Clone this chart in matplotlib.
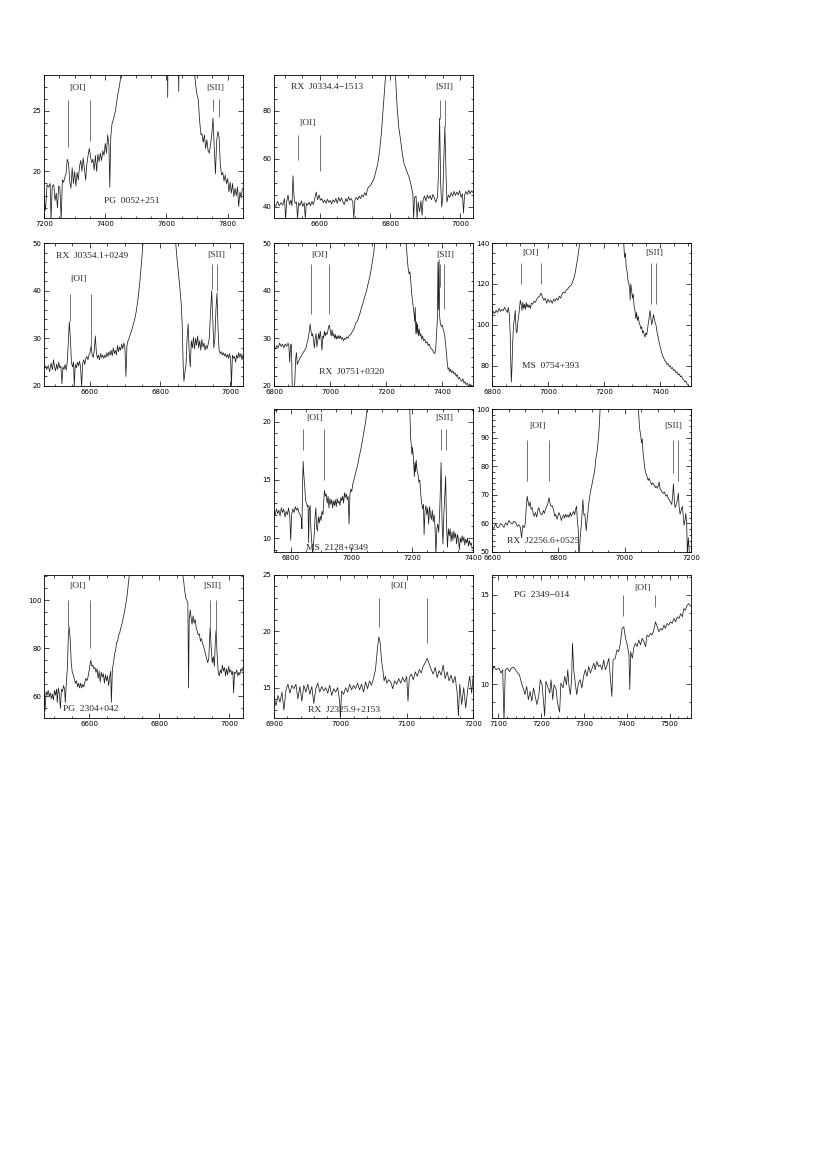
import numpy as np
import matplotlib.pyplot as plt
from matplotlib.ticker import MultipleLocator

# espectros: pares (comprimento de onda [A], fluxo)

pg0052 = [(7200, 17.8), (7205, 16.8), (7210, 18.9), (7215, 18.7), (7220, 19.0), (7223, 16.0), (7227, 18.8),
          (7232, 18.9), (7236, 17.6), (7240, 18.2), (7244, 17.0), (7248, 18.8), (7252, 18.6), (7256, 16.0),
          (7260, 19.3), (7264, 19.1), (7268, 19.5), (7272, 19.8), (7276, 21.0), (7280, 20.7), (7284, 19.2),
          (7288, 18.6), (7292, 20.3), (7296, 19.0), (7300, 20.0), (7304, 18.8), (7308, 19.9), (7312, 19.3),
          (7316, 20.4), (7320, 20.9), (7324, 20.0), (7328, 21.1), (7332, 20.2), (7336, 19.3), (7340, 20.6),
          (7344, 21.3), (7348, 21.9), (7352, 21.2), (7356, 20.7), (7360, 21.0), (7364, 20.1), (7368, 21.3),
          (7372, 20.0), (7376, 21.4), (7380, 20.8), (7384, 21.5), (7388, 20.9), (7392, 21.7), (7396, 21.3),
          (7400, 22.3), (7404, 21.5), (7408, 23.0), (7412, 22.2), (7415, 18.7), (7418, 22.8), (7422, 23.9),
          (7428, 24.4), (7434, 25.1), (7440, 26.2), (7446, 27.0), (7452, 28.0), (7460, 29.5), (7500, 35.0),
          (7550, 40.0), (7600, 38.0), (7604, 26.1), (7608, 38.0), (7636, 36.0), (7640, 26.6), (7644, 35.0),
          (7670, 31.0), (7690, 28.5), (7696, 27.0), (7700, 26.3), (7704, 25.9), (7708, 24.3), (7710, 23.7),
          (7713, 23.0), (7716, 23.1), (7720, 22.4), (7724, 23.0), (7728, 21.9), (7732, 22.6), (7736, 21.7),
          (7740, 21.5), (7744, 22.2), (7748, 23.0), (7752, 24.4), (7756, 22.0), (7760, 19.8), (7764, 22.5),
          (7768, 23.3), (7772, 22.8), (7776, 20.5), (7780, 19.7), (7784, 19.9), (7788, 19.2), (7792, 19.7),
          (7796, 19.0), (7800, 19.4), (7804, 18.3), (7808, 19.1), (7812, 18.2), (7816, 19.0), (7820, 17.9),
          (7824, 18.6), (7828, 18.0), (7832, 18.7), (7836, 17.1), (7840, 18.3), (7844, 17.8), (7848, 18.6)]

rx0334 = [(6470, 41.0), (6475, 40.2), (6480, 42.3), (6485, 40.5), (6490, 41.8), (6495, 40.8), (6500, 43.5),
          (6503, 35.0), (6506, 42.0), (6510, 45.0), (6514, 41.0), (6518, 42.8), (6521, 40.5), (6524, 53.0),
          (6527, 44.0), (6530, 41.5), (6534, 42.0), (6537, 35.2), (6540, 41.8), (6544, 40.6), (6548, 42.5),
          (6552, 40.2), (6556, 41.8), (6559, 35.3), (6562, 41.5), (6566, 40.8), (6570, 42.0), (6574, 40.5),
          (6578, 42.3), (6582, 41.0), (6586, 43.5), (6590, 46.2), (6594, 43.0), (6598, 45.0), (6602, 42.8),
          (6606, 43.5), (6610, 41.8), (6614, 42.9), (6618, 41.5), (6622, 43.2), (6626, 41.9), (6630, 42.8),
          (6634, 41.2), (6638, 43.0), (6642, 42.0), (6646, 43.5), (6650, 41.5), (6654, 44.0), (6658, 42.3),
          (6662, 43.8), (6666, 42.0), (6670, 41.0), (6674, 43.5), (6678, 42.2), (6682, 44.2), (6686, 42.8),
          (6690, 43.5), (6694, 42.0), (6697, 35.3), (6700, 42.8), (6704, 44.0), (6708, 43.0), (6712, 44.5),
          (6716, 43.5), (6720, 45.0), (6724, 44.2), (6728, 46.0), (6732, 44.8), (6736, 47.5), (6740, 48.5),
          (6745, 49.0), (6750, 50.5), (6755, 52.0), (6760, 55.0), (6765, 58.0), (6770, 63.0), (6775, 70.0),
          (6780, 80.0), (6785, 90.0), (6790, 100.0), (6800, 130.0), (6810, 110.0), (6815, 96.0), (6820, 82.0),
          (6825, 73.0), (6830, 68.0), (6835, 62.0), (6840, 58.0), (6845, 56.0), (6850, 54.0), (6855, 52.0),
          (6860, 49.0), (6862, 47.5), (6865, 45.5), (6867, 35.3), (6870, 44.0), (6874, 44.5), (6877, 35.3),
          (6880, 42.0), (6884, 38.0), (6888, 42.5), (6891, 36.5), (6894, 43.0), (6898, 44.5), (6902, 42.5),
          (6906, 45.0), (6910, 43.5), (6914, 44.8), (6918, 43.0), (6922, 45.2), (6926, 43.8), (6930, 42.0),
          (6935, 44.0), (6938, 55.0), (6941, 77.0), (6944, 50.0), (6947, 40.0), (6950, 44.0), (6953, 60.0),
          (6956, 73.5), (6959, 55.0), (6962, 42.0), (6966, 45.0), (6970, 44.0), (6974, 46.0), (6978, 44.5),
          (6982, 46.5), (6986, 44.8), (6990, 46.2), (6994, 45.0), (6998, 46.8), (7002, 44.0), (7006, 45.5),
          (7009, 37.5), (7012, 45.0), (7016, 46.5), (7020, 45.2), (7024, 47.0), (7028, 45.5), (7032, 46.8),
          (7036, 46.0)]

rx0354 = [(6470, 23.8), (6474, 24.2), (6478, 23.5), (6482, 24.3), (6486, 23.0), (6490, 24.8), (6494, 23.4),
          (6497, 25.5), (6500, 24.0), (6503, 23.2), (6506, 24.6), (6509, 23.5), (6512, 25.0), (6515, 23.8),
          (6518, 24.2), (6521, 20.5), (6524, 24.0), (6527, 23.5), (6530, 24.5), (6533, 23.3), (6536, 25.0),
          (6539, 29.0), (6542, 33.5), (6545, 30.0), (6548, 25.0), (6551, 24.0), (6554, 25.0), (6556, 20.0),
          (6559, 24.5), (6562, 23.8), (6565, 25.0), (6568, 24.2), (6571, 25.2), (6574, 24.0), (6577, 19.8),
          (6580, 24.8), (6583, 25.5), (6586, 24.5), (6589, 25.8), (6592, 26.2), (6595, 25.5), (6598, 26.5),
          (6601, 27.0), (6604, 28.5), (6607, 26.5), (6610, 26.0), (6613, 27.5), (6616, 30.5), (6619, 27.0),
          (6622, 25.8), (6625, 26.5), (6628, 25.5), (6631, 26.8), (6634, 26.0), (6637, 26.5), (6640, 25.8),
          (6643, 26.5), (6646, 26.0), (6649, 27.0), (6652, 26.2), (6655, 27.2), (6658, 26.5), (6661, 27.5),
          (6664, 26.3), (6667, 28.0), (6670, 26.8), (6673, 27.5), (6676, 26.5), (6679, 28.5), (6682, 27.2),
          (6685, 28.2), (6688, 27.5), (6691, 28.8), (6694, 27.8), (6697, 29.0), (6700, 28.2), (6703, 22.0),
          (6706, 28.5), (6709, 29.5), (6712, 30.0), (6716, 31.0), (6720, 31.8), (6724, 33.0), (6728, 34.0),
          (6732, 35.5), (6736, 37.5), (6740, 40.0), (6744, 43.0), (6748, 46.5), (6752, 50.5), (6760, 58.0),
          (6780, 75.0), (6800, 85.0), (6820, 75.0), (6840, 55.0), (6844, 50.5), (6848, 47.0), (6852, 44.0),
          (6856, 41.0), (6860, 37.5), (6863, 33.0), (6866, 24.0), (6868, 21.0), (6871, 23.0), (6874, 24.5),
          (6877, 30.0), (6880, 33.0), (6883, 27.0), (6886, 24.0), (6889, 29.5), (6892, 28.0), (6895, 30.2),
          (6898, 27.8), (6901, 30.0), (6904, 28.5), (6907, 30.5), (6910, 28.0), (6913, 29.5), (6916, 27.5),
          (6919, 29.8), (6922, 28.2), (6925, 29.0), (6928, 27.5), (6931, 28.5), (6934, 27.8), (6937, 28.8),
          (6940, 30.0), (6944, 36.0), (6947, 40.0), (6950, 34.0), (6953, 28.0), (6956, 30.0), (6959, 36.0),
          (6962, 39.5), (6965, 32.0), (6968, 27.5), (6971, 26.8), (6974, 27.2), (6977, 26.5), (6980, 27.0),
          (6983, 26.3), (6986, 26.8), (6989, 26.0), (6992, 26.6), (6995, 25.8), (6998, 26.8), (7001, 25.5),
          (7003, 20.0), (7006, 26.5), (7009, 25.8), (7012, 26.2), (7015, 25.0), (7018, 26.5), (7021, 25.8),
          (7024, 27.0), (7027, 26.0), (7030, 26.8), (7033, 25.5), (7036, 26.6)]

rx0751 = [(6800, 28.3), (6805, 27.8), (6810, 28.5), (6815, 28.0), (6820, 29.0), (6825, 28.3), (6830, 28.8),
          (6835, 28.0), (6840, 28.8), (6845, 28.3), (6850, 29.0), (6853, 28.5), (6856, 25.0), (6859, 28.6),
          (6862, 28.8), (6865, 20.0), (6868, 18.0), (6871, 19.0), (6874, 20.5), (6877, 25.5), (6880, 27.0),
          (6883, 24.5), (6886, 25.0), (6890, 25.5), (6894, 26.0), (6898, 26.3), (6902, 26.8), (6906, 27.2),
          (6910, 27.5), (6914, 28.0), (6918, 29.0), (6922, 30.0), (6926, 31.5), (6929, 33.0), (6932, 31.5),
          (6935, 30.5), (6938, 31.0), (6941, 29.5), (6944, 28.0), (6947, 30.0), (6950, 31.0), (6953, 28.2),
          (6956, 29.5), (6959, 31.0), (6962, 29.8), (6965, 31.5), (6968, 30.0), (6971, 27.5), (6974, 30.5),
          (6977, 30.0), (6980, 31.5), (6983, 30.5), (6986, 31.2), (6989, 30.8), (6992, 31.5), (6995, 32.5),
          (6998, 32.8), (7001, 31.5), (7004, 30.5), (7007, 31.8), (7010, 30.5), (7013, 31.0), (7016, 30.0),
          (7019, 30.8), (7022, 29.8), (7025, 30.5), (7028, 29.9), (7031, 30.6), (7034, 30.0), (7037, 30.5),
          (7040, 29.8), (7044, 30.2), (7048, 29.5), (7052, 30.0), (7056, 29.8), (7060, 30.3), (7064, 30.0),
          (7068, 30.5), (7072, 30.8), (7076, 31.0), (7080, 31.5), (7084, 31.8), (7088, 32.5), (7092, 33.2),
          (7096, 33.5), (7100, 34.0), (7104, 34.8), (7108, 35.5), (7112, 36.5), (7116, 37.0), (7120, 38.0),
          (7124, 38.8), (7128, 39.5), (7132, 40.5), (7136, 41.5), (7140, 42.5), (7144, 43.5), (7148, 45.0),
          (7152, 46.5), (7156, 48.0), (7160, 50.5), (7170, 56.0), (7200, 70.0), (7240, 65.0), (7265, 55.0),
          (7270, 51.0), (7274, 48.0), (7278, 45.0), (7282, 43.5), (7285, 44.0), (7288, 42.0), (7291, 39.5),
          (7294, 38.0), (7297, 36.5), (7300, 35.0), (7302, 33.5), (7304, 36.5), (7306, 31.0), (7308, 33.5),
          (7310, 31.0), (7312, 33.0), (7315, 30.5), (7318, 32.0), (7321, 30.5), (7324, 31.0), (7327, 29.8),
          (7330, 30.5), (7334, 29.5), (7338, 29.8), (7342, 29.0), (7346, 29.3), (7350, 28.5), (7354, 28.8),
          (7358, 28.0), (7362, 27.8), (7366, 27.5), (7370, 27.0), (7374, 26.8), (7377, 28.0), (7380, 31.0),
          (7383, 34.0), (7385, 46.0), (7387, 36.0), (7389, 46.5), (7391, 34.5), (7394, 33.0), (7397, 32.5),
          (7400, 32.8), (7403, 32.0), (7406, 31.5), (7409, 30.5), (7412, 29.0), (7415, 27.0), (7418, 25.0),
          (7421, 23.5), (7424, 23.8), (7427, 23.0), (7430, 23.5), (7434, 22.8), (7438, 23.2), (7442, 22.5),
          (7446, 22.8), (7450, 22.0), (7454, 22.4), (7458, 21.5), (7462, 21.8), (7466, 21.2), (7470, 21.0),
          (7474, 21.5), (7478, 20.6), (7482, 20.9), (7486, 20.3), (7490, 20.6), (7494, 19.8), (7498, 20.4),
          (7502, 19.9), (7506, 20.2), (7510, 19.5)]

ms0754 = [(6800, 104.0), (6805, 106.5), (6810, 105.5), (6815, 107.0), (6820, 106.0), (6825, 108.0),
          (6830, 106.5), (6835, 107.5), (6840, 106.8), (6845, 108.5), (6850, 107.0), (6855, 106.0),
          (6858, 108.5), (6862, 105.0), (6865, 95.0), (6867, 82.0), (6869, 72.0), (6871, 78.0), (6874, 92.0),
          (6877, 100.0), (6880, 103.0), (6883, 107.0), (6886, 97.0), (6889, 96.0), (6892, 101.0),
          (6895, 104.0), (6898, 108.0), (6901, 112.0), (6904, 110.0), (6907, 107.0), (6910, 111.0),
          (6913, 108.0), (6916, 110.0), (6919, 107.5), (6922, 111.0), (6925, 108.5), (6928, 110.0),
          (6931, 108.5), (6934, 109.5), (6937, 108.0), (6940, 110.5), (6945, 110.0), (6950, 111.5),
          (6955, 111.0), (6960, 112.5), (6965, 113.5), (6970, 114.0), (6975, 115.5), (6980, 113.5),
          (6985, 112.0), (6990, 113.0), (6995, 110.5), (7000, 112.5), (7005, 111.0), (7010, 112.0),
          (7015, 110.5), (7020, 112.5), (7025, 111.5), (7030, 113.0), (7035, 112.0), (7040, 114.0),
          (7045, 113.0), (7050, 115.0), (7055, 116.0), (7060, 115.5), (7065, 117.0), (7070, 117.5),
          (7075, 118.5), (7080, 119.0), (7085, 120.0), (7090, 122.0), (7095, 124.0), (7100, 128.0),
          (7105, 132.0), (7110, 137.0), (7114, 141.0), (7150, 160.0), (7220, 165.0), (7265, 145.0),
          (7270, 140.0), (7273, 133.0), (7276, 135.0), (7279, 128.0), (7282, 126.0), (7285, 122.0),
          (7288, 120.0), (7291, 118.0), (7293, 112.0), (7295, 120.0), (7298, 117.0), (7301, 113.0),
          (7304, 115.0), (7307, 109.0), (7310, 107.0), (7313, 103.0), (7316, 106.0), (7319, 102.0),
          (7322, 104.0), (7325, 101.0), (7328, 100.0), (7331, 98.0), (7334, 99.0), (7337, 96.0), (7340, 97.0),
          (7343, 95.0), (7346, 94.0), (7349, 96.0), (7352, 95.0), (7355, 98.0), (7358, 101.0), (7361, 104.0),
          (7364, 107.0), (7367, 103.0), (7370, 100.0), (7373, 102.0), (7376, 105.0), (7379, 103.0),
          (7382, 101.0), (7385, 100.0), (7388, 97.0), (7391, 95.0), (7394, 93.0), (7397, 91.0), (7400, 89.0),
          (7404, 87.0), (7408, 85.0), (7412, 84.0), (7416, 82.5), (7420, 82.0), (7424, 80.5), (7428, 81.0),
          (7432, 79.5), (7436, 80.0), (7440, 78.5), (7444, 79.0), (7448, 77.5), (7452, 78.0), (7456, 76.5),
          (7460, 77.0), (7464, 75.5), (7468, 76.0), (7472, 74.5), (7476, 75.0), (7480, 73.5), (7484, 73.0),
          (7488, 72.0), (7492, 72.5), (7496, 71.0), (7500, 70.5), (7504, 69.5)]

ms2128 = [(6745, 12.3), (6749, 12.0), (6753, 12.5), (6757, 12.1), (6761, 12.4), (6765, 11.9), (6769, 12.6),
          (6773, 12.2), (6777, 12.5), (6781, 11.8), (6785, 12.3), (6789, 12.0), (6793, 12.6), (6797, 11.8),
          (6800, 9.8), (6803, 12.0), (6807, 12.5), (6811, 12.2), (6815, 12.7), (6819, 12.4), (6823, 12.6),
          (6827, 12.2), (6831, 12.0), (6835, 11.7), (6837, 10.8), (6839, 14.5), (6841, 16.6), (6843, 15.5),
          (6846, 14.5), (6849, 13.2), (6852, 13.0), (6855, 12.7), (6857, 12.8), (6859, 9.6), (6861, 12.5),
          (6864, 12.8), (6866, 11.0), (6869, 9.8), (6872, 8.5), (6875, 9.5), (6878, 10.5), (6880, 11.8),
          (6883, 12.6), (6885, 11.0), (6888, 10.6), (6891, 11.8), (6894, 11.3), (6897, 11.9), (6900, 11.5),
          (6903, 12.3), (6906, 12.0), (6909, 13.3), (6911, 14.1), (6914, 13.6), (6917, 13.8), (6920, 13.0),
          (6923, 13.6), (6926, 12.6), (6929, 13.4), (6932, 12.9), (6935, 13.3), (6938, 12.6), (6941, 13.2),
          (6944, 12.8), (6947, 13.3), (6950, 12.7), (6953, 13.4), (6956, 13.0), (6959, 13.2), (6962, 12.8),
          (6965, 13.5), (6968, 13.2), (6971, 13.6), (6974, 13.0), (6977, 13.9), (6980, 13.5), (6983, 13.8),
          (6986, 13.3), (6989, 13.6), (6992, 11.2), (6995, 13.8), (6998, 14.2), (7001, 14.0), (7004, 14.6),
          (7008, 15.0), (7012, 15.4), (7016, 15.9), (7020, 16.2), (7024, 16.8), (7028, 17.3), (7032, 17.8),
          (7036, 18.4), (7040, 19.0), (7044, 19.6), (7048, 20.3), (7052, 21.2), (7080, 26.0), (7150, 30.0),
          (7190, 22.0), (7192, 21.0), (7195, 18.5), (7197, 18.0), (7199, 17.2), (7201, 17.8), (7204, 16.8),
          (7207, 15.3), (7209, 16.5), (7211, 15.7), (7213, 16.7), (7216, 15.8), (7219, 15.5), (7222, 14.8),
          (7225, 15.0), (7228, 13.8), (7231, 13.0), (7234, 12.5), (7237, 12.9), (7239, 10.3), (7242, 12.3),
          (7245, 12.8), (7248, 12.0), (7251, 12.6), (7254, 11.2), (7257, 12.7), (7260, 12.0), (7263, 11.6),
          (7266, 12.4), (7269, 11.4), (7272, 12.0), (7275, 11.0), (7278, 8.6), (7281, 10.8), (7284, 11.2),
          (7287, 10.5), (7290, 12.0), (7293, 14.5), (7295, 16.5), (7298, 11.5), (7301, 9.5), (7304, 12.0),
          (7307, 13.5), (7310, 15.3), (7313, 11.0), (7316, 9.2), (7319, 10.8), (7322, 10.2), (7325, 10.8),
          (7328, 9.7), (7331, 10.5), (7334, 9.8), (7337, 10.6), (7340, 10.0), (7343, 10.4), (7346, 9.5),
          (7349, 10.3), (7352, 9.9), (7355, 9.0), (7358, 10.0), (7361, 9.6), (7364, 10.2), (7367, 9.7),
          (7370, 10.1), (7373, 9.4), (7376, 9.9), (7379, 9.6), (7382, 10.0), (7385, 9.3), (7388, 9.8),
          (7391, 9.4), (7394, 9.6), (7397, 9.1), (7400, 9.2)]

rx2256 = [(6599, 59.3), (6605, 58.2), (6611, 59.8), (6616, 58.5), (6621, 58.7), (6626, 60.0), (6631, 59.5),
          (6636, 58.6), (6641, 60.2), (6646, 59.4), (6651, 61.0), (6656, 60.2), (6661, 59.8), (6666, 60.8),
          (6671, 60.4), (6676, 59.0), (6681, 59.5), (6685, 58.8), (6689, 55.0), (6693, 59.3), (6697, 58.5),
          (6700, 59.8), (6703, 65.0), (6706, 69.5), (6709, 67.5), (6712, 66.0), (6715, 67.5), (6718, 65.0),
          (6721, 65.5), (6724, 63.5), (6727, 62.5), (6731, 63.8), (6735, 62.2), (6738, 64.5), (6741, 65.5),
          (6745, 63.8), (6748, 63.0), (6751, 63.2), (6755, 64.5), (6758, 63.5), (6761, 64.9), (6765, 66.0),
          (6768, 66.8), (6772, 69.0), (6775, 67.0), (6778, 66.0), (6782, 66.1), (6786, 64.5), (6789, 62.5),
          (6792, 63.2), (6796, 61.5), (6799, 62.6), (6802, 63.8), (6806, 62.5), (6809, 61.0), (6812, 62.1),
          (6816, 63.0), (6819, 61.8), (6822, 63.2), (6826, 62.2), (6829, 63.0), (6832, 62.1), (6836, 63.8),
          (6839, 62.5), (6842, 63.2), (6846, 64.2), (6849, 63.0), (6852, 64.9), (6855, 66.0), (6857, 61.5),
          (6860, 58.0), (6862, 48.0), (6866, 55.0), (6870, 60.4), (6874, 68.3), (6877, 63.0), (6880, 63.2),
          (6884, 57.5), (6887, 61.5), (6890, 65.0), (6892, 67.2), (6896, 70.5), (6900, 72.8), (6904, 75.0),
          (6908, 77.4), (6911, 80.0), (6913, 82.5), (6916, 84.5), (6918, 86.4), (6921, 89.8), (6924, 95.0),
          (6926, 100.5), (6960, 130.0), (7010, 125.0), (7041, 100.5), (7045, 93.2), (7048, 91.0), (7051, 88.1),
          (7053, 89.5), (7055, 85.3), (7058, 82.0), (7061, 79.0), (7064, 77.5), (7068, 76.2), (7071, 75.0),
          (7074, 75.8), (7078, 74.5), (7081, 73.5), (7084, 74.2), (7089, 73.4), (7092, 72.5), (7095, 73.0),
          (7099, 72.3), (7102, 73.5), (7104, 74.5), (7107, 72.0), (7110, 71.5), (7112, 71.1), (7116, 70.5),
          (7120, 71.0), (7124, 69.5), (7128, 70.0), (7131, 68.8), (7134, 68.3), (7138, 67.5), (7142, 66.6),
          (7145, 70.0), (7147, 73.8), (7150, 68.0), (7152, 65.5), (7155, 66.5), (7157, 67.2), (7160, 69.0),
          (7162, 70.6), (7164, 66.0), (7167, 63.2), (7170, 64.5), (7174, 66.0), (7177, 62.0), (7179, 59.3),
          (7182, 61.0), (7184, 63.5), (7187, 60.5), (7189, 49.0), (7192, 55.0), (7196, 48.0), (7200, 48.0)]

pg2304 = [(6471, 61.0), (6473, 54.0), (6476, 62.0), (6479, 60.5), (6482, 62.5), (6485, 60.0), (6488, 61.5),
          (6491, 59.0), (6494, 61.0), (6497, 58.5), (6500, 62.5), (6503, 60.5), (6506, 63.0), (6508, 57.5),
          (6511, 63.5), (6514, 61.0), (6517, 55.0), (6520, 63.0), (6523, 62.0), (6526, 64.5), (6529, 63.0),
          (6531, 57.5), (6534, 65.5), (6537, 72.0), (6540, 86.0), (6542, 89.0), (6545, 84.0), (6548, 74.0),
          (6551, 70.0), (6554, 69.0), (6557, 67.0), (6560, 65.5), (6563, 66.5), (6566, 64.0), (6569, 65.5),
          (6572, 63.5), (6575, 65.5), (6578, 63.5), (6581, 65.0), (6584, 64.0), (6587, 66.0), (6590, 67.5),
          (6593, 66.5), (6596, 68.0), (6599, 70.5), (6602, 73.5), (6604, 75.0), (6607, 72.5), (6610, 73.0),
          (6613, 71.5), (6616, 72.0), (6619, 70.0), (6622, 71.5), (6625, 67.5), (6628, 70.5), (6631, 66.0),
          (6634, 70.0), (6637, 68.0), (6640, 69.5), (6643, 65.5), (6646, 69.0), (6649, 66.5), (6652, 68.5),
          (6655, 64.5), (6658, 68.0), (6661, 70.5), (6663, 57.5), (6666, 71.5), (6669, 74.0), (6672, 77.5),
          (6675, 79.0), (6678, 82.5), (6681, 83.0), (6684, 85.5), (6687, 86.5), (6690, 88.5), (6693, 90.0),
          (6696, 92.0), (6699, 94.0), (6702, 96.5), (6705, 99.0), (6708, 102.0), (6711, 106.0), (6714, 110.0),
          (6718, 116.0), (6780, 140.0), (6850, 130.0), (6866, 112.0), (6870, 108.0), (6873, 104.0),
          (6876, 101.0), (6879, 100.0), (6882, 99.0), (6884, 63.5), (6886, 92.0), (6889, 96.0), (6891, 93.0),
          (6894, 90.0), (6897, 93.5), (6900, 90.5), (6903, 92.0), (6906, 88.5), (6909, 87.0), (6912, 85.5),
          (6915, 86.0), (6918, 83.0), (6921, 84.0), (6924, 82.0), (6927, 81.0), (6930, 79.0), (6933, 77.5),
          (6936, 75.5), (6939, 74.0), (6942, 76.0), (6944, 83.0), (6946, 89.0), (6949, 80.0), (6952, 74.0),
          (6955, 76.5), (6958, 72.5), (6961, 84.0), (6963, 87.5), (6966, 77.0), (6969, 70.0), (6972, 68.5),
          (6975, 71.0), (6978, 69.5), (6981, 73.0), (6984, 70.5), (6987, 72.0), (6990, 68.5), (6993, 71.5),
          (6996, 69.0), (6999, 72.5), (7002, 70.0), (7005, 71.0), (7008, 69.0), (7011, 70.5), (7013, 61.5),
          (7016, 70.0), (7019, 69.5), (7022, 71.0), (7025, 68.5), (7028, 70.0), (7031, 69.0), (7034, 71.5),
          (7037, 70.5), (7040, 72.0)]

rx2325 = [(6900, 14.2), (6903, 13.4), (6906, 14.3), (6909, 13.7), (6912, 14.6), (6915, 13.0), (6918, 14.8),
          (6921, 15.3), (6924, 14.5), (6927, 15.2), (6930, 14.9), (6933, 15.3), (6936, 14.0), (6939, 15.1),
          (6942, 13.8), (6945, 15.2), (6948, 14.6), (6951, 15.3), (6954, 14.4), (6957, 15.1), (6960, 13.6),
          (6963, 14.9), (6966, 15.4), (6969, 14.6), (6972, 15.1), (6975, 14.7), (6978, 15.0), (6981, 14.5),
          (6984, 15.2), (6987, 14.3), (6990, 14.9), (6993, 14.6), (6996, 15.0), (6999, 13.8), (7000, 12.4),
          (7002, 14.7), (7005, 14.4), (7008, 15.0), (7011, 14.6), (7014, 15.3), (7017, 14.8), (7020, 15.2),
          (7023, 14.9), (7026, 15.4), (7029, 14.8), (7032, 15.3), (7035, 14.6), (7038, 15.5), (7041, 14.9),
          (7044, 15.6), (7047, 15.2), (7050, 15.8), (7053, 16.6), (7056, 18.5), (7058, 19.5), (7060, 19.0),
          (7062, 17.5), (7064, 16.6), (7066, 15.6), (7068, 16.0), (7070, 15.4), (7073, 15.7), (7076, 15.5),
          (7079, 14.9), (7082, 15.6), (7085, 15.3), (7088, 15.8), (7091, 15.4), (7094, 15.9), (7097, 15.5),
          (7100, 16.0), (7102, 13.8), (7104, 15.9), (7107, 16.2), (7110, 15.7), (7113, 16.4), (7116, 16.0),
          (7119, 16.6), (7122, 16.3), (7125, 16.9), (7128, 17.2), (7131, 17.6), (7134, 17.1), (7137, 16.6),
          (7140, 16.2), (7143, 16.8), (7146, 15.9), (7149, 16.5), (7152, 16.1), (7155, 17.0), (7158, 15.8),
          (7161, 16.4), (7164, 15.6), (7167, 16.1), (7170, 15.4), (7173, 16.0), (7176, 14.6), (7178, 12.5),
          (7180, 15.3), (7183, 13.5), (7186, 15.0), (7189, 13.2), (7192, 14.8), (7195, 16.0), (7198, 14.5),
          (7200, 15.9)]

pg2349 = [(7084, 10.24), (7088, 10.98), (7095, 10.80), (7101, 10.89), (7106, 10.61), (7110, 10.80),
          (7113, 7.90), (7116, 10.80), (7121, 10.89), (7126, 10.70), (7130, 10.89), (7135, 10.94),
          (7140, 10.80), (7145, 10.61), (7149, 10.52), (7155, 9.96), (7159, 9.69), (7162, 9.41), (7166, 9.87),
          (7170, 9.13), (7174, 9.59), (7178, 9.04), (7182, 9.78), (7186, 9.31), (7190, 8.85), (7194, 9.31),
          (7198, 10.24), (7202, 9.96), (7206, 8.85), (7208, 8.20), (7211, 10.15), (7215, 9.87), (7220, 9.50),
          (7223, 10.24), (7227, 9.13), (7230, 9.96), (7235, 9.69), (7238, 8.94), (7243, 8.43), (7246, 10.06),
          (7251, 9.78), (7255, 10.43), (7259, 9.96), (7262, 10.80), (7265, 9.87), (7268, 9.41), (7271, 10.24),
          (7273, 12.28), (7276, 10.80), (7280, 9.96), (7283, 9.41), (7287, 10.06), (7291, 10.24), (7295, 9.78),
          (7299, 10.43), (7303, 10.80), (7307, 10.43), (7311, 10.98), (7315, 10.61), (7319, 10.89),
          (7323, 11.17), (7326, 10.80), (7330, 11.26), (7334, 10.98), (7338, 11.07), (7342, 10.80),
          (7346, 11.35), (7350, 10.80), (7354, 11.07), (7358, 11.44), (7362, 10.24), (7365, 9.31),
          (7368, 11.35), (7373, 11.44), (7377, 11.91), (7381, 11.81), (7385, 12.28), (7389, 13.11),
          (7393, 13.20), (7397, 12.56), (7401, 12.19), (7405, 11.63), (7407, 9.69), (7409, 11.81),
          (7413, 11.44), (7416, 12.00), (7420, 12.28), (7424, 12.09), (7428, 12.46), (7432, 12.19),
          (7436, 12.56), (7440, 12.37), (7444, 12.09), (7447, 12.74), (7451, 12.65), (7455, 12.83),
          (7459, 12.74), (7463, 13.02), (7467, 13.48), (7471, 13.20), (7475, 12.93), (7479, 13.11),
          (7483, 13.02), (7487, 13.30), (7490, 13.11), (7494, 13.39), (7498, 13.30), (7502, 13.48),
          (7506, 13.39), (7510, 13.67), (7514, 13.48), (7518, 13.76), (7522, 13.67), (7526, 13.94),
          (7530, 13.76), (7533, 14.22), (7537, 14.13), (7541, 14.41), (7545, 14.50), (7549, 14.35)]

# marcas das riscas: (lambda, y topo, y base) e rótulos (texto, lambda, y)
linhas_pg0052 = [(7279, 25.9, 22.0), (7351, 25.9, 22.5), (7752, 26.0, 25.0), (7770, 26.0, 24.5)]
rotulos_pg0052 = [('[OI]', 7309, 26.9), ('[SII]', 7758, 26.9)]
linhas_rx0334 = [(6538, 69.9, 59.7), (6600, 69.9, 55.0), (6941, 84.7, 76.8), (6955, 84.7, 73.3)]
rotulos_rx0334 = [('[OI]', 6564, 75.0), ('[SII]', 6953, 90.0)]
linhas_rx0354 = [(6543, 39.3, 33.6), (6605, 39.3, 28.6), (6948, 45.5, 40.3), (6962, 45.5, 40.0)]
rotulos_rx0354 = [('[OI]', 6569, 42.4), ('[SII]', 6960, 47.4)]
linhas_rx0751 = [(6931, 45.5, 35.2), (6998, 45.5, 35.2), (7392, 45.5, 40.7), (7406, 45.5, 36.1)]
rotulos_rx0751 = [('[OI]', 6962, 47.4), ('[SII]', 7412, 47.4)]
linhas_ms0754 = [(6903, 130.4, 120.0), (6975, 130.4, 120.0), (7369, 130.4, 110.2), (7384, 130.4, 110.2)]
rotulos_ms0754 = [('[OI]', 6937, 135.2), ('[SII]', 7378, 135.2)]
linhas_ms2128 = [(6841, 19.4, 17.6), (6910, 19.4, 15.0), (7295, 19.4, 17.6), (7310, 19.4, 17.6)]
rotulos_ms2128 = [('[OI]', 6877, 20.3), ('[SII]', 7306, 20.3)]
linhas_rx2256 = [(6706, 89.2, 74.8), (6772, 89.2, 74.8), (7147, 89.2, 77.6), (7162, 89.2, 74.8)]
rotulos_rx2256 = [('[OI]', 6737, 94.1), ('[SII]', 7145, 94.1)]
linhas_pg2304 = [(6540, 100.0, 88.9), (6603, 100.0, 80.1), (6946, 100.0, 89.2), (6962, 100.0, 87.4)]
rotulos_pg2304 = [('[OI]', 6566, 105.8), ('[SII]', 6951, 105.8)]
linhas_rx2325 = [(7058, 23.0, 20.4), (7130, 23.0, 19.0)]
rotulos_rx2325 = [('[OI]', 7088, 24.0)]
linhas_pg2349 = [(7391, 15.0, 13.8), (7465, 15.0, 14.3)]
rotulos_pg2349 = [('[OI]', 7437, 15.4)]

fonte = 'Liberation Serif'
fig = plt.figure(figsize=(8.3, 11.73), dpi=100)


def painel(x_px, topo_px, xlim, ylim, xt, yt, espectro, linhas, rotulos, nome, pos_nome):
    ax = fig.add_axes([x_px / 830, 1 - (topo_px + 143) / 1173, 199 / 830, 143 / 1173])
    w, f = zip(*espectro)
    ax.plot(w, f, color='0.12', lw=0.55)
    for x, y1, y2 in linhas:
        ax.vlines(x, y2, y1, color='0.45', lw=0.7)
    for txt, x, y in rotulos:
        ax.text(x, y, txt, ha='center', va='center', fontsize=6.8, family=fonte, color='0.2')
    ax.text(pos_nome[0], pos_nome[1], nome, ha='left', va='center', fontsize=6.8, family=fonte, color='0.15')
    ax.set_xlim(xlim)
    ax.set_ylim(ylim)
    ax.xaxis.set_major_locator(MultipleLocator(xt[0]))
    ax.xaxis.set_minor_locator(MultipleLocator(xt[1]))
    ax.yaxis.set_major_locator(MultipleLocator(yt[0]))
    ax.yaxis.set_minor_locator(MultipleLocator(yt[1]))
    ax.tick_params(which='both', direction='in', top=True, right=True, width=0.5, labelsize=5, pad=2)
    ax.tick_params(which='major', length=3.5)
    ax.tick_params(which='minor', length=1.8)
    for s in ax.spines.values():
        s.set_linewidth(0.6)
    return ax


painel(44, 75, (7200, 7850), (16.15, 27.95), (200, 50), (5, 1), pg0052, linhas_pg0052, rotulos_pg0052,
       'PG  0052+251', (7395, 17.55))
painel(274, 75, (6470, 7036), (35.4, 95), (200, 50), (20, 5), rx0334, linhas_rx0334, rotulos_rx0334,
       'RX  J0334.4\u22121513', (6518, 90.0))
painel(44, 243, (6470, 7036), (20, 50), (200, 50), (10, 2), rx0354, linhas_rx0354, rotulos_rx0354,
       'RX  J0354.1+0249', (6505, 47.2))
painel(274, 243, (6800, 7510), (20, 50), (200, 50), (10, 2), rx0751, linhas_rx0751, rotulos_rx0751,
       'RX  J0751+0320', (6959, 23.0))
painel(492, 243, (6800, 7510), (70, 140), (200, 50), (20, 5), ms0754, linhas_ms0754, rotulos_ms0754,
       'MS  0754+393', (6906, 80.0))
painel(274, 409, (6745, 7400), (8.8, 21.1), (200, 50), (5, 1), ms2128, linhas_ms2128, rotulos_ms2128,
       'MS  2128+0349', (6850, 9.15))
painel(492, 409, (6600, 7200), (50, 100), (200, 50), (10, 2), rx2256, linhas_rx2256, rotulos_rx2256,
       'RX  J2256.6+0525', (6646, 53.8))
painel(44, 575, (6470, 7040), (51, 110.5), (200, 50), (20, 5), pg2304, linhas_pg2304, rotulos_pg2304,
       'PG  2304+042', (6524, 54.7))
painel(274, 575, (6900, 7200), (12.3, 25), (100, 20), (5, 1), rx2325, linhas_rx2325, rotulos_rx2325,
       'RX  J2325.9+2153', (6952, 13.0))
painel(492, 575, (7085, 7550), (8.1, 16.1), (100, 20), (5, 1), pg2349, linhas_pg2349, rotulos_pg2349,
       'PG  2349\u2212014', (7137, 15.0))

fig.savefig('out.png', dpi=100, facecolor='white')
